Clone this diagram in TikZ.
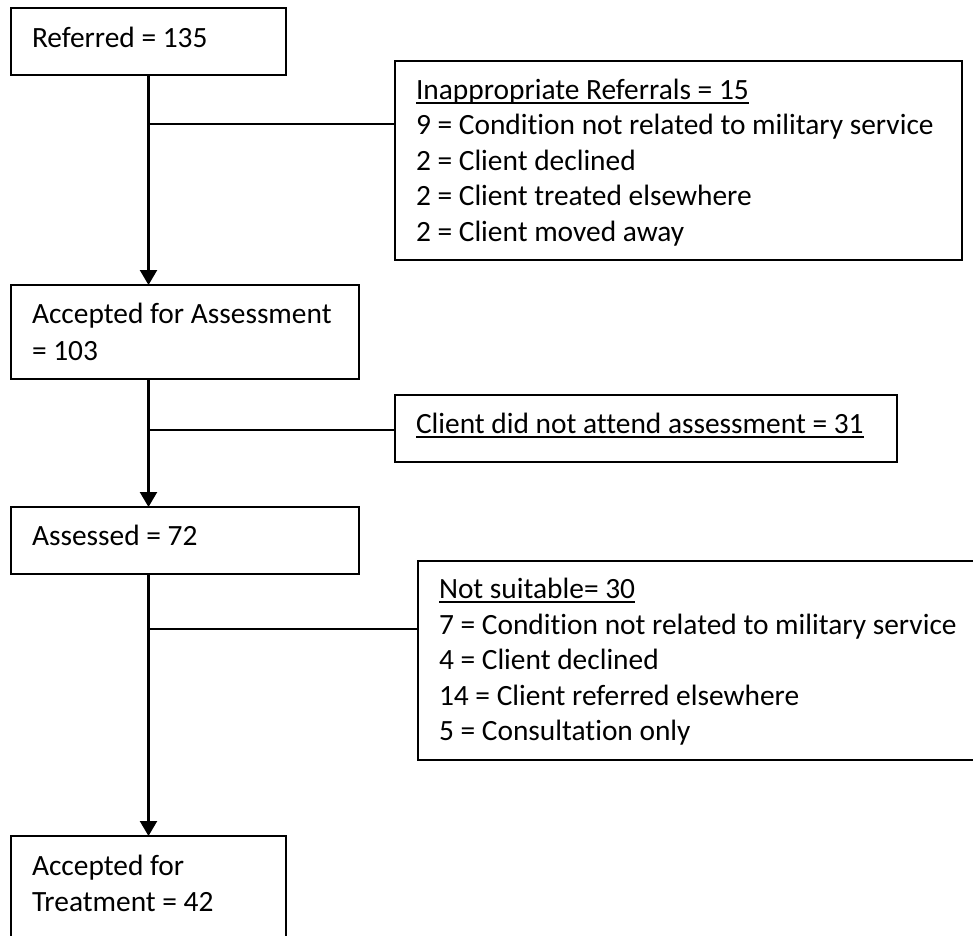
\documentclass[tikz,border=0pt]{standalone}
\usepackage{fontspec}
\setmainfont{Carlito}[Ligatures=NoCommon]
\usetikzlibrary{arrows.meta}
\begin{document}
\begin{tikzpicture}[x=1pt,y=-1pt,
  boxst/.style={draw, line width=1.3pt, inner sep=0pt, outer sep=0pt, anchor=north west},
  txt/.style={inner sep=0pt, outer sep=0pt, anchor=base west, font=\fontsize{29.4pt}{36pt}\selectfont},
  flow/.style={line width=2.2pt, -{Triangle[width=17pt,length=15pt]}},
  side/.style={line width=1.3pt},
  ulst/.style={line width=1.8pt}]
\path[use as bounding box] (0,0) rectangle (973,935);

% boxes
\node[boxst, minimum width=275pt, minimum height=67pt]  (b1) at (11,8) {};
\node[boxst, minimum width=567pt, minimum height=199pt] (b2) at (395,61) {};
\node[boxst, minimum width=348pt, minimum height=94pt]  (b3) at (11,285) {};
\node[boxst, minimum width=502pt, minimum height=67pt]  (b4) at (395,395) {};
\node[boxst, minimum width=348pt, minimum height=67pt]  (b5) at (11,507) {};
\node[boxst, minimum width=562pt, minimum height=199pt] (b6) at (418,561) {};
\node[boxst, minimum width=275pt, minimum height=109pt] (b7) at (11,836) {};

% texts
\node[txt] (t1) at (32,47) {Referred = 135};

\node[txt] (t2a) at (416,99) {Inappropriate Referrals = 15};
\node[txt] (t2b) at (416,134.5) {9 = Condition not related to military service};
\node[txt] (t2c) at (416,170) {2 = Client declined};
\node[txt] (t2d) at (416,205.5) {2 = Client treated elsewhere};
\node[txt] (t2e) at (416,241) {2 = Client moved away};
\draw[ulst] ([yshift=-4pt]t2a.base west) -- ([yshift=-4pt]t2a.base east);

\node[txt] (t3a) at (32,323) {Accepted for Assessment};
\node[txt] (t3b) at (32,360) {= 103};

\node[txt] (t4) at (416,433) {Client did not attend assessment = 31};
\draw[ulst] ([yshift=-4pt]t4.base west) -- ([yshift=-4pt]t4.base east);

\node[txt] (t5) at (32,545) {Assessed = 72};

\node[txt] (t6a) at (439,598) {Not suitable= 30};
\node[txt] (t6b) at (439,634) {7 = Condition not related to military service};
\node[txt] (t6c) at (439,669.5) {4 = Client declined};
\node[txt] (t6d) at (439,705) {14 = Client referred elsewhere};
\node[txt] (t6e) at (439,740.5) {5 = Consultation only};
\draw[ulst] ([yshift=-4pt]t6a.base west) -- ([yshift=-4pt]t6a.base east);

\node[txt] (t7a) at (32,875) {Accepted for};
\node[txt] (t7b) at (32,911) {Treatment = 42};

% junction points
\coordinate (j1) at (b1.south |- 0,124);
\coordinate (j2) at (b1.south |- 0,430);
\coordinate (j3) at (b1.south |- 0,629);

% flow connectors
\draw[flow] (b1.south) -- (b1.south |- b3.north);
\draw[flow] (b1.south |- b3.south) -- (b1.south |- b5.north);
\draw[flow] (b1.south |- b5.south) -- (b1.south |- b7.north);

% side connectors
\draw[side] (j1) -- (j1 -| b2.west);
\draw[side] (j2) -- (j2 -| b4.west);
\draw[side] (j3) -- (j3 -| b6.west);
\end{tikzpicture}
\end{document}
